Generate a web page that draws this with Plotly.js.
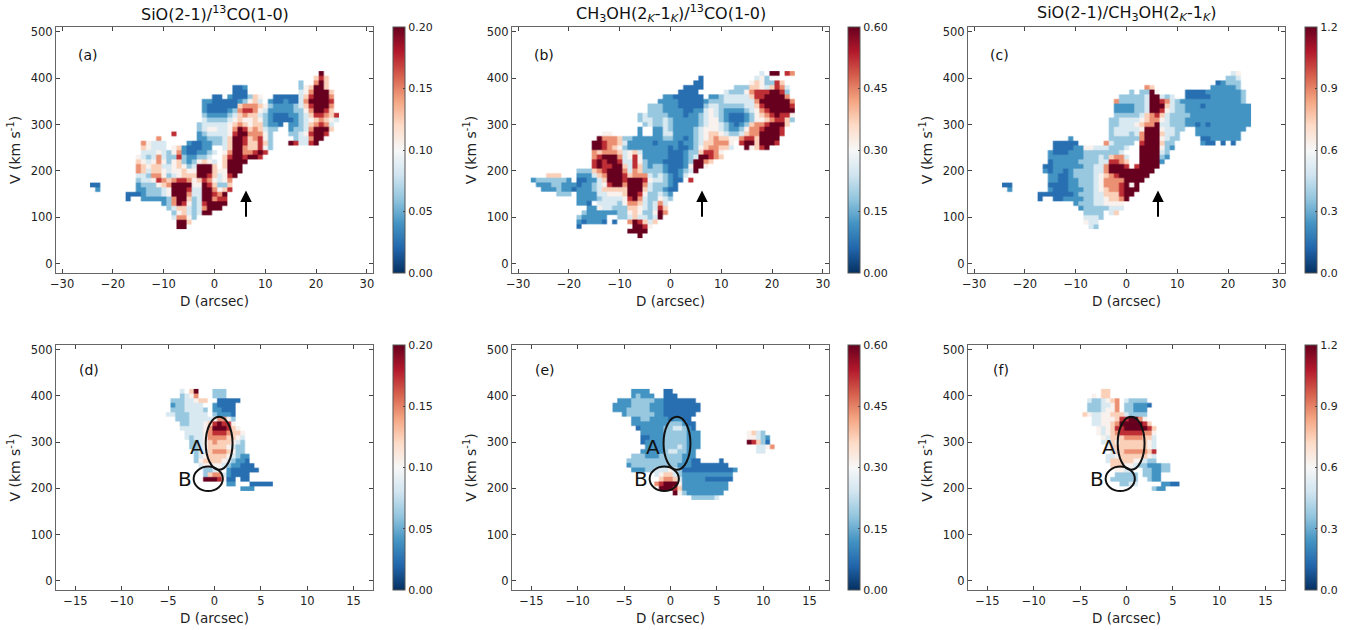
<!DOCTYPE html>
<html><head><meta charset="utf-8">
<script src="https://cdn.plot.ly/plotly-3.0.1.min.js"></script>
<style>html,body{margin:0;padding:0;background:#fff}#c{width:1365px;height:630px}</style></head>
<body><div id="c"></div>
<script>
// Each entry: velocity (km/s), first offset (arcsec), then one level digit per cell ('.' = no data)
const rowsA=[[410,21,"9"],[400,20,"686"],[390,17,"3"],[390,20,"796"],[380,4,"112"],[380,17,"356996"],[370,4,"111"],[370,17,"4579996"],
[360,0,"11.2111365"],[360,12,"11111"],[360,17,"4689997"],[350,-2,"221111123564"],[350,11,"2112114799998"],
[340,-2,"21111116777653222234689997"],[330,-2,"21111237887542222233579986"],[320,-2,"322223467664321112234688768"],[310,-2,"433334565565321111234567654"],
[300,-3,"34444456765663221.223467874"],[290,-3,"3455445798676433..233479996"],[280,-8,"8"],[280,-3,"234444589977753"],[280,15,"33458998"],
[270,-11,"7"],[270,-3,"223334699867853"],[270,16,"344799"],[260,-14,"75444"],[260,-5,"21122334699866863"],[260,15,"984489"],
[250,-14,"65444"],[250,-8,"56211122"],[250,2,"4699766853"],[240,-14,"444543572112234.579977898"],[230,-15,"543474338322334..68998998"],
[220,-15,"6545753563235654.69999"],[210,-15,"7656644565349996.6999"],[200,-15,"764665455655999655999"],[190,-15,"44377534566699864589"],
[180,-15,"3445876788756875457"],[170,-24,"11"],[170,-15,"2333567999955986336"],[160,-23,"2"],[160,-15,"2233345999844997568"],
[150,-17,"11123334599974499879"],[140,-17,"1"],[140,-14,"22222379963499788"],[130,-10,"2379853489999"],[120,-9,"34664347999"],[110,-8,"35643499"],[100,-8,"47753"],[90,-7,"996"],[80,-7,"99"]];
const rowsB=[[410,18,"4"],[410,20,"99.87"],[400,6,"1"],[400,17,"453"],[390,5,"11"],[390,16,"5653386"],[380,3,"1111"],[380,13,"33366546874"],
[370,2,"1111"],[370,11,"4333578889983"],[360,-1,"22111111"],[360,8,"2234444468899997"],[350,-2,"222211111233344444479999997"],
[340,-4,"33322211111344333334468999998"],[330,-4,"33322221122454322223457899999"],[320,-6,"3433332221223454321112356789885"],[310,-6,"3443343222223455321112355678863"],
[300,-5,"34334322222345543212367789996"],[290,-6,"2"],[290,-3,"22432222345554322357789998"],[280,-13,"55"],[280,-6,"2"],[280,-3,"22442222345665433467799998"],
[270,-14,"977763322222233221234567665578869999"],[260,-15,"9987764222221222212234667775.89969998"],[250,-15,"9987653222222221211235677664..95689"],
[240,-15,"76777645642222211123368875"],[230,-15,"78999745852222211123499876"],[220,-15,"898998448532221111239976"],[210,-15,"89889964863233211125995"],
[200,-18,"333678999747633332112349"],[190,-24,"666"],[190,-18,"2224679998677743432124"],[180,-27,"23333332"],[180,-18,"112246999899985443211"],[180,4,"8"],
[170,-26,"2223322212234589979997433321"],[160,-25,"222322122234666669996433211"],[150,-22,"333"],[150,-18,"2222445556998533432"],
[140,-18,"2222344445897433543"],[130,-18,"221.44443577643474"],[120,-16,"2254433366543486"],[110,-17,"32222223356533597"],[100,-18,"322222..334644349"],
[90,-18,"212221.1"],[90,-8,"798646"],[80,-18,"1"],[80,-7,"9985"],[70,-8,"9999"],[60,-6,"9"]];
const rowsC=[[410,21,"45"],[400,20,"334"],[390,18,"12333"],[380,4,"76"],[380,17,"222223"],[370,1,"3.3395"],[370,12,"111122222223"],
[360,-1,"33333499434"],[360,12,"111112222223"],[350,-2,"73333349987432222222222223"],
[340,-2,"222233499964332221222222222"],[330,-2,"222233499854332222222222222"],[320,-2,"333334678643333222222222222"],
[310,-3,"3344445677543332222222222222"],[300,-3,"3344456779443332212122222222"],[290,-3,"344444599954433"],[290,14,"2222222222"],
[280,-3,"34443479996443"],[280,14,"222222222"],[270,-11,"2"],[270,-3,"33333379995433"],[270,15,"11222222"],
[260,-14,"11111"],[260,-4,"743333.8999633"],[260,15,"211.1.1"],[250,-14,"111122554443334..9999532"],
[240,-15,"211122233333334...999943"],[230,-15,"2222222333436774..999932"],[220,-15,"12222233334488 76..99992".replace(" ","")],
[210,-16,"11222222334479998.89999"],[200,-16,"2122123333447999999999"],[190,-15,"22112333345678999999"],[180,-15,"2211223334577779999"],
[170,-24,"11"],[170,-15,"111122333457778959"],[160,-23,"2"],[160,-15,"211122233456778999"],[150,-17,"1111111233344666899"],[140,-17,"1"],[140,-14,"112222334456679"],
[130,-10,"2333445555"],[120,-9,"233333444"],[110,-8,"3333.46"],[100,-8,"4443"],[90,-8,"544"],[80,-7,"43"]];
const rowsD=[[410,-3.5,"4.69...333"],[400,-3.5,"3457...333"],[390,-4.5,"33344566..11111"],[380,-4.5,"2334444..21111"],[370,-4.5,"33344443.22111"],
[360,-5,"443334444.32221"],[350,-4,"3334444457753"],[340,-3.5,"334445689885"],[330,-3.5,"4444457999865"],
[320,-3,"4444578887665"],[310,-3,"4344577776654"],[300,-2.5,"334567666543"],[290,-2.5,"334566665433"],
[280,-2,"34467776533"],[270,-2,"345666654322"],[260,-2,"356666543221"],[250,-1.5,"455554322111"],
[240,-1,"3345"],[240,1.5,"2111111"],[230,-1,"3677421111"],[220,-1,"9998511.11"],[210,1.5,"22"],[210,4,"11111"],[200,3,"222"]];
const rowsE=[[410,-4,"2222"],[410,-.5,"11"],[400,-4,"23222"],[400,-.5,"111"],[390,-5.5,"2223333322"],[390,-.5,"1111111"],[380,-6,"22223333222"],[380,-.5,"11111111"],
[370,-6,"22233333222"],[370,-.5,"11111111"],[360,-5,"2333333221111111"],[350,-4,"2233222212211"],[340,-4,"22222222333211"],
[330,-3.5,"1222223344321"],[320,-3,"2222233333222"],[310,-3,"1122233333222"],[300,-3,"1222233333222"],[290,-2.5,"222233343222"],
[280,-3,"222223443322"],[270,-4,"33322233333222"],[260,-4.5,"3333333333332211"],[260,5.5,"1"],
[250,-4.5,"2333333333322211111111"],[240,-4,"22233444543111111111112"],[230,-1.5,"45664322222222222"],[220,-1,"6776422222111111"],
[210,-1.5,"7899952222222222"],[200,-1,"999862222222222"],[190,.5,"95322222222"],[180,2.5,"333334"],
[320,8.5,"5643"],[310,8.5,"55432"],[300,8.5,"98631"],[290,9.5,"4457"],[280,9.5,"44"]];
const rowsF=[[410,-2.5,"66"],[400,-3.5,"5.66"],[390,-4,"4334567"],[390,0,"43333"],[380,-4,"3334457"],[380,0,"332221"],[370,-4,"3334557"],[370,0,"33222"],
[360,-4.5,"654455666"],[360,0,"43333"],[350,-3.5,"445556889975"],[340,-3.5,"4455679999986"],[330,-3,"5456889999986"],
[320,-3,"5456788888775"],[310,-2.5,"546667777664"],[300,-2.5,"446566666654"],[290,-2,"56666666654"],
[280,-1.5,"4667777768"],[270,-2,"44566666654"],[260,-2,"46666655433"],[250,-1.5,"6665543322233"],
[240,-1,"5544..332233"],[230,-1,"33333.3322"],[220,-1.5,"333333..322"],[210,-.5,"3344"],[210,4,"2211"],[200,3,"322"]];

const levels=[.05,.12,.2,.31,.42,.52,.62,.73,.87,1];
const xLabelTop=[-30,-20,-10,0,10,20,30];
const xLabelBottom=[-15,-10,-5,0,5,10,15];
const yLabels=[0,100,200,300,400,500];
const titles=["SiO(2-1)/<sup>13</sup>CO(1-0)","CH<sub>3</sub>OH(2<sub><i>K</i></sub>-1<sub><i>K</i></sub>)/<sup>13</sup>CO(1-0)","SiO(2-1)/CH<sub>3</sub>OH(2<sub><i>K</i></sub>-1<sub><i>K</i></sub>)"];
const panelNames=["(a)","(b)","(c)","(d)","(e)","(f)"];
const limits=[.2,.6,1.2];
const cbTicks=[[0,.05,.1,.15,.2],[0,.15,.3,.45,.6],[0,.3,.6,.9,1.2]];
const cbFormat=[".2f",".2f",".1f"];
const allRows=[rowsA,rowsB,rowsC,rowsD,rowsE,rowsF];

const frameX=[[56,373],[512,829],[968,1285]];
const frameY=[[27,273],[345,590]];
const barX=[393,848,1305];
const W=1365,H=630;
const RdBu=[[0,'#053061'],[.1,'#2166ac'],[.2,'#4393c3'],[.3,'#92c5de'],[.4,'#d1e5f0'],[.5,'#f7f7f7'],[.6,'#fddbc7'],[.7,'#f4a582'],[.8,'#d6604d'],[.9,'#b2182b'],[1,'#67001f']];

// Every cell is drawn as three sub-cells a side so that the image smoothing only softens its edge.
const SUB=3;
function grid(rows,step,zmax){
  let vs=rows.map(r=>r[0]),lo=1e9,hi=-1e9;
  rows.forEach(r=>{lo=Math.min(lo,r[1]);hi=Math.max(hi,r[1]+(r[2].length-1)*step);});
  const vmin=Math.min(...vs),vmax=Math.max(...vs);
  const n=Math.round((hi-lo)/step)+1,m=(vmax-vmin)/10+1;
  const off=k=>(k+.5)/SUB-.5;
  const x=[],y=[];
  for(let i=0;i<n;i++)for(let k=0;k<SUB;k++)x.push(lo+(i+off(k))*step);
  for(let j=0;j<m;j++)for(let k=0;k<SUB;k++)y.push(vmin+(j+off(k))*10);
  const z=y.map(()=>x.map(()=>null));
  rows.forEach(r=>{const j=(r[0]-vmin)/10,i0=Math.round((r[1]-lo)/step);
    [...r[2]].forEach((c,i)=>{if(c==='.')return;
      for(let a=0;a<SUB;a++)for(let b=0;b<SUB;b++)z[j*SUB+a][(i0+i)*SUB+b]=levels[+c]*zmax;});});
  return {x,y,z};
}
const traces=[],layout={width:W,height:H,margin:{l:0,r:0,t:0,b:0},paper_bgcolor:'#fff',plot_bgcolor:'#fff',showlegend:false,font:{family:'"DejaVu Sans",sans-serif',color:'#222',size:11},annotations:[],shapes:[]};
const ink='#111';
for(let p=0;p<6;p++){
  const col=p%3,row=p<3?0:1,zmax=limits[col],step=row?.5:1,g=grid(allRows[p],step,zmax),suf=p?String(p+1):'';
  traces.push({type:'heatmap',x:g.x,y:g.y,z:g.z,zmin:0,zmax:zmax,colorscale:RdBu,zsmooth:'fast',xaxis:'x'+suf,yaxis:'y'+suf,hoverongaps:false,
    colorbar:{x:barX[col]/W,xanchor:'left',y:1-frameY[row][0]/H,yanchor:'top',len:(frameY[row][1]-frameY[row][0])/H,lenmode:'fraction',thickness:12,thicknessmode:'pixels',xpad:0,ypad:0,
      tickvals:cbTicks[col],tickformat:cbFormat[col],ticks:'inside',ticklen:2,tickcolor:'#444',tickfont:{size:11,color:'#222'},outlinecolor:'#555',outlinewidth:1}});
  const ax={linecolor:'#666',linewidth:1,mirror:'allticks',ticks:'inside',ticklen:4,tickcolor:'#444',showgrid:false,zeroline:false,tickfont:{size:11.5,color:'#222'}};
  layout['xaxis'+suf]=Object.assign({},ax,{domain:[frameX[col][0]/W,frameX[col][1]/W],range:row?[-17.1,17.1]:[-31.2,31.2],tickvals:row?xLabelBottom:xLabelTop,anchor:'y'+suf,
    title:{text:'D (arcsec)',font:{size:13.5},standoff:6}});
  layout['yaxis'+suf]=Object.assign({},ax,{domain:[1-frameY[row][1]/H,1-frameY[row][0]/H],range:[-20,510],tickvals:yLabels,anchor:'x'+suf,
    title:{text:'V (km s<sup>-1</sup>)',font:{size:14},standoff:6}});
  const xr='x'+suf,yr='y'+suf;
  layout.annotations.push({xref:xr,yref:yr,x:row?-13.5:-25,y:row?455:450,text:panelNames[p],showarrow:false,xanchor:'center',font:{size:14,color:'#111'}});
  if(row===0){
    layout.annotations.push({xref:'paper',yref:'paper',x:(frameX[col][0]+frameX[col][1])/2/W,y:1-13/H,text:titles[col],showarrow:false,font:{size:16,color:'#111'},xanchor:'center',yanchor:'middle'});
    layout.annotations.push({xref:xr,yref:yr,axref:xr,ayref:yr,x:6.2,y:158,ax:6.2,ay:98,text:'',showarrow:true,arrowhead:2,arrowsize:1.15,arrowwidth:2,arrowcolor:'#000'});
  } else {
    const wide=col===1?.2:0;
    layout.shapes.push({type:'circle',xref:xr,yref:yr,x0:-.95+wide,x1:1.95+wide,y0:240,y1:355,line:{color:ink,width:2}});
    layout.shapes.push({type:'circle',xref:xr,yref:yr,x0:-2.25,x1:.9,y0:194,y1:247,line:{color:ink,width:2}});
    layout.annotations.push({xref:xr,yref:yr,x:-1.9,y:289,text:'A',showarrow:false,xanchor:'center',font:{size:20,color:'#111'}});
    layout.annotations.push({xref:xr,yref:yr,x:-3.15,y:221,text:'B',showarrow:false,xanchor:'center',font:{size:20,color:'#111'}});
  }
}
Plotly.newPlot('c',traces,layout,{displayModeBar:false,staticPlot:true});
</script></body></html>
